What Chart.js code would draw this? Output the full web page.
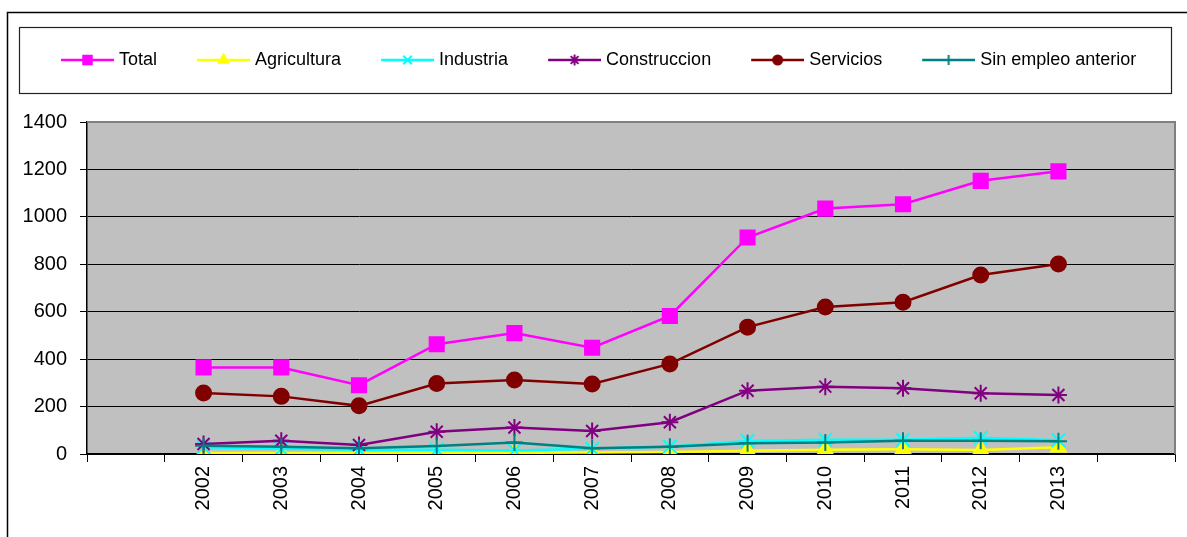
<!DOCTYPE html>
<html>
<head>
<meta charset="utf-8">
<script src="https://cdn.jsdelivr.net/npm/chart.js@4.4.1/dist/chart.umd.min.js"></script>
<style>
html,body{margin:0;padding:0;background:#fff;}
#wrap{width:1187px;height:537px;}
</style>
</head>
<body>
<div id="wrap"><canvas id="c" width="1187" height="537"></canvas></div>
<script>
// ---- data ----
const years = ['2002','2003','2004','2005','2006','2007','2008','2009','2010','2011','2012','2013'];
const seriesNames = ['Total','Agricultura','Industria','Construccion','Servicios','Sin empleo anterior'];
const total        = [365, 365, 290, 463, 510, 448, 582, 913, 1035, 1053, 1152, 1192];
const agricultura  = [4, 4, 4, 5, 5, 6, 8, 14, 18, 20, 17, 28];
const industria    = [28, 22, 18, 18, 15, 22, 32, 55, 60, 60, 68, 58];
const construccion = [42, 56, 38, 94, 112, 97, 134, 267, 284, 277, 256, 249];
const servicios    = [257, 243, 203, 297, 312, 295, 380, 535, 620, 640, 755, 801];
const sinEmpleo    = [35, 31, 24, 34, 49, 24, 31, 45, 48, 56, 56, 54];
const yTicks = [0, 200, 400, 600, 800, 1000, 1200, 1400];

// ---- styles ----
const FONT = "'Liberation Sans', Arial, sans-serif";
const styles = [
  {color:'#FF00FF', point:'rect',     r:10,  lr:6},
  {color:'#FFFF00', point:'triangle', r:8.5, lr:5.5},
  {color:'#00FFFF', point:'crossRot', r:9.5, lr:6},
  {color:'#800080', point:'star',     r:8.5, lr:5.5},
  {color:'#800000', point:'circle',   r:7.5, lr:4.5},
  {color:'#008080', point:'cross',    r:8.5, lr:5}
];
const allValues = [total, agricultura, industria, construccion, servicios, sinEmpleo];
const labels = [''].concat(years, ['']);

const datasets = allValues.map((vals, i) => ({
  label: seriesNames[i],
  data: [null].concat(vals, [null]),
  borderColor: styles[i].color,
  backgroundColor: styles[i].color,
  pointBackgroundColor: styles[i].color,
  pointBorderColor: styles[i].color,
  pointStyle: styles[i].point,
  pointRadius: styles[i].r,
  pointBorderWidth: 2,
  borderWidth: 2.5,
  tension: 0,
  order: 5 - i
}));

// legend images: line with marker
const LEG_B = 79, LEG_W = 87, LINE_LEN = 53;
function legendImage(i) {
  const c = document.createElement('canvas');
  c.width = LEG_W; c.height = 18;
  const g = c.getContext('2d');
  g.strokeStyle = styles[i].color;
  g.lineWidth = 2.5;
  g.beginPath(); g.moveTo(LEG_W - LINE_LEN, 9); g.lineTo(LEG_W, 9); g.stroke();
  g.fillStyle = styles[i].color;
  g.strokeStyle = styles[i].color;
  g.lineWidth = 2;
  const cx = LEG_W - LINE_LEN / 2;
  if (Chart.helpers && Chart.helpers.drawPoint) {
    Chart.helpers.drawPoint(g, {pointStyle: styles[i].point, radius: styles[i].lr, borderWidth: 2, rotation: 0}, cx, 9);
  } else {
    g.beginPath(); g.arc(cx, 9, 4.5, 0, Math.PI * 2); g.fill();
  }
  return c;
}

const decor = {
  id: 'decor',
  beforeDraw(chart) {
    const {ctx, chartArea: a} = chart;
    ctx.save();
    ctx.fillStyle = '#fff';
    ctx.fillRect(0, 0, chart.width, chart.height);
    ctx.fillStyle = '#C0C0C0';
    ctx.fillRect(a.left, a.top, a.right - a.left, a.bottom - a.top);
    ctx.restore();
  },
  beforeDatasetsDraw(chart) {
    const {ctx, chartArea: a} = chart;
    ctx.save();
    ctx.strokeStyle = '#808080';
    ctx.lineWidth = 2;
    ctx.beginPath();
    ctx.moveTo(a.left, a.top);
    ctx.lineTo(a.right, a.top);
    ctx.lineTo(a.right, a.bottom);
    ctx.stroke();
    ctx.restore();
  },
  afterDraw(chart) {
    const ctx = chart.ctx;
    ctx.save();
    ctx.strokeStyle = '#000';
    ctx.lineWidth = 1.5;
    ctx.beginPath();
    ctx.moveTo(7.5, chart.height);
    ctx.lineTo(7.5, 12.5);
    ctx.lineTo(chart.width, 12.5);
    ctx.stroke();
    ctx.strokeStyle = '#222';
    ctx.lineWidth = 1.2;
    ctx.strokeRect(19.5, 27.5, 1152, 66);
    ctx.restore();
  }
};

new Chart(document.getElementById('c'), {
  type: 'line',
  data: { labels: labels, datasets: datasets },
  plugins: [decor],
  options: {
    responsive: false,
    animation: false,
    devicePixelRatio: 1,
    layout: { padding: { left: 21, right: 12, top: 41, bottom: 0 } },
    plugins: {
      tooltip: { enabled: false },
      title: {
        display: true, text: '', position: 'top', weight: 500,
        padding: { top: 42, bottom: 0 }, font: { size: 1, lineHeight: 1 }
      },
      legend: {
        display: true,
        position: 'top',
        align: 'start',
        labels: {
          usePointStyle: true,
          pointStyleWidth: LEG_B,
          padding: 10,
          color: '#000',
          font: { family: FONT, size: 18 },
          generateLabels(chart) {
            return chart.data.datasets.map((ds, i) => ({
              text: ds.label,
              datasetIndex: i,
              fillStyle: styles[i].color,
              strokeStyle: styles[i].color,
              lineWidth: 0,
              hidden: false,
              fontColor: '#000',
              pointStyle: legendImage(i)
            }));
          }
        }
      }
    },
    scales: {
      x: {
        type: 'category',
        offset: true,
        grid: { display: true, offset: true, drawOnChartArea: false, drawTicks: true, tickLength: 8, color: '#000' },
        border: { display: true, color: '#000', width: 1.5 },
        ticks: {
          autoSkip: false, maxRotation: 90, minRotation: 90, padding: 4,
          color: '#000', font: { family: FONT, size: 20 }
        },
        afterFit(scale) { scale.height = 83; }
      },
      y: {
        min: 0, max: 1400,
        afterBuildTicks(scale) { scale.ticks = yTicks.map(v => ({ value: v })); },
        grid: { color: '#000', lineWidth: 1, tickLength: 7, drawTicks: true },
        border: { display: true, color: '#000', width: 1.5 },
        ticks: { padding: 13, color: '#000', font: { family: FONT, size: 20 }, callback: (v) => String(v) },
        afterFit(scale) { scale.width = 66; }
      }
    }
  }
});
</script>
</body>
</html>
